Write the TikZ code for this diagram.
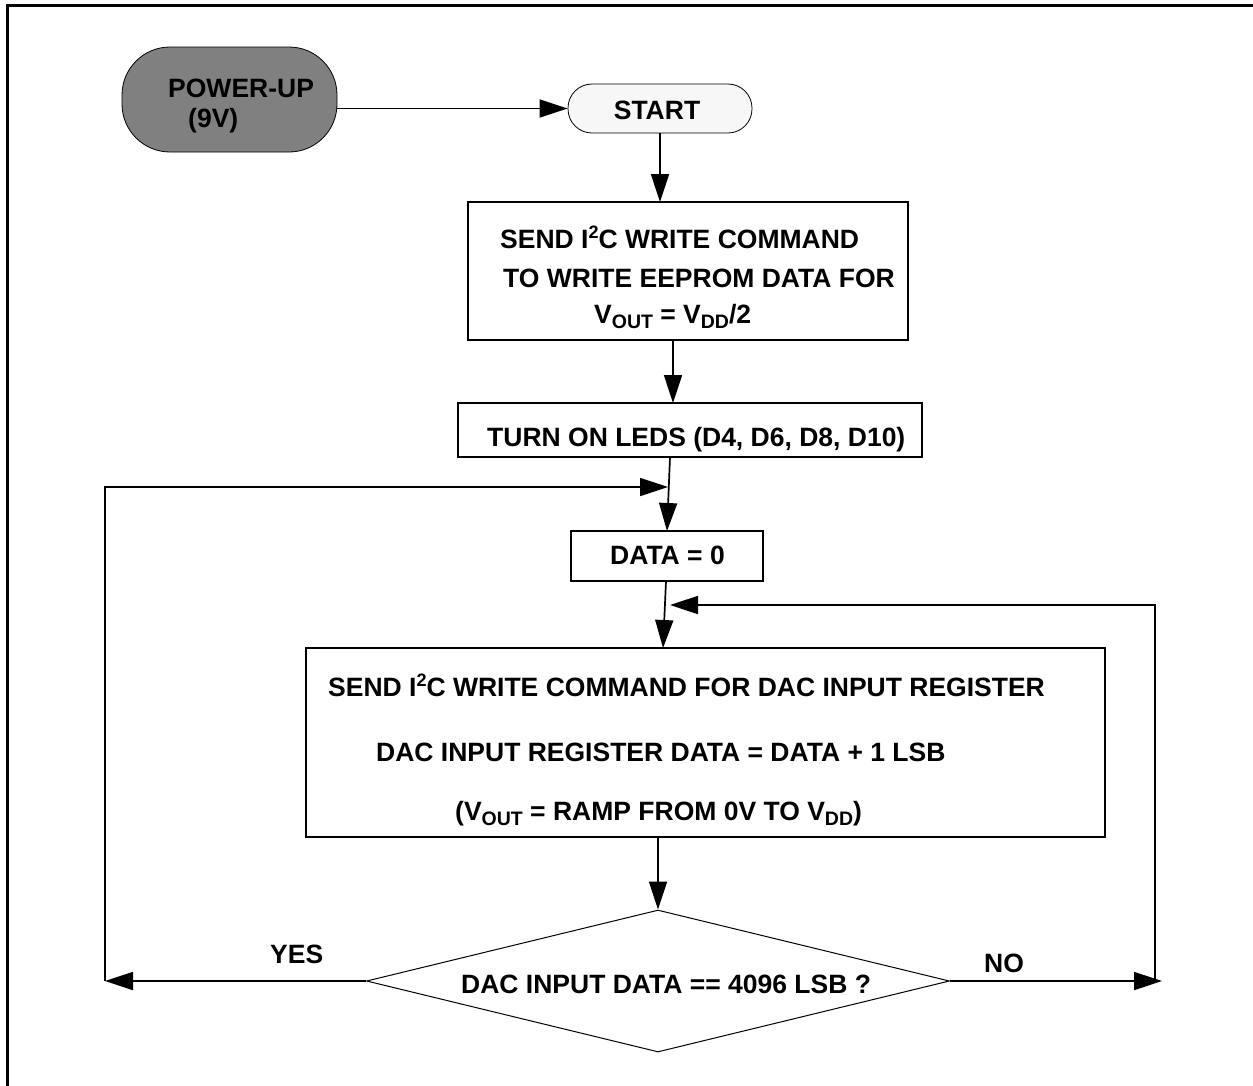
\documentclass[tikz,border=0pt]{standalone}
\usepackage{fontspec}
\setmainfont{Liberation Sans}
\usetikzlibrary{arrows.meta,shapes.geometric}
\newcommand\mysub[1]{\raisebox{-5.5pt}{\fontsize{19.5}{20}\selectfont #1}}
\newcommand\mysup[1]{\raisebox{10pt}{\fontsize{18}{18}\selectfont #1}}
\begin{document}
\begin{tikzpicture}[x=1pt,y=-1pt,
  every node/.style={font=\fontsize{26.5}{31}\selectfont\bfseries, inner sep=0pt},
  box/.style={draw, line width=1.8pt},
  txt/.style={anchor=base west},
  arr/.style={-{Triangle[length=28pt,width=18pt]}, line width=1.7pt}]
\useasboundingbox (0,0) rectangle (1253,1085);
% frame
\draw[line width=3pt] (7.5,1100) -- (7.5,5.5) -- (1270,5.5);
% power-up
\node[draw, line width=0.8pt, fill=black!50, rounded corners=48pt, minimum width=215pt, minimum height=105pt] (pwr) at (229.5,99.5) {};
\node[txt] (pwrt1) at (168,97) {POWER-UP};
\node[txt] (pwrt2) at (188,127) {(9V)};
% start
\node[draw, line width=0.8pt, fill=black!3, rounded corners=24pt, minimum width=184pt, minimum height=49pt] (start) at (660,108.5) {};
\node (startt) at (657,110) {START};
% box1
\node[box, minimum width=440pt, minimum height=138pt] (b1) at (688,271) {};
\node[txt] (b1t1) at (500,248) {SEND I\mysup{2}C WRITE COMMAND};
\node[txt] (b1t2) at (503,287) {TO WRITE EEPROM DATA FOR};
\node[txt] (b1t3) at (594,323) {V\mysub{OUT} = V\mysub{DD}/2};
% box2
\node[box, minimum width=464pt, minimum height=54pt] (b2) at (690,430) {};
\node[txt] (b2t) at (487,446) {TURN ON LEDS (D4, D6, D8, D10)};
% data
\node[box, minimum width=192pt, minimum height=50pt] (data) at (667,556) {};
\node[txt] (datat) at (610,564) {DATA = 0};
% big box
\node[box, minimum width=799pt, minimum height=189pt] (big) at (705.5,742.5) {};
\node[txt] (bigt1) at (328,696) {SEND I\mysup{2}C WRITE COMMAND FOR DAC INPUT REGISTER};
\node[txt] (bigt2) at (376,761) {DAC INPUT REGISTER DATA = DATA + 1 LSB};
\node[txt] (bigt3) at (455,820) {(V\mysub{OUT} = RAMP FROM 0V TO V\mysub{DD})};
% decision
\node[draw, line width=1pt, diamond, minimum width=583pt, minimum height=142pt] (dia) at (658,981) {};
\node[txt] (diat) at (461,993) {DAC INPUT DATA == 4096 LSB ?};
\node[txt] (yes) at (270,963) {YES};
\node[txt] (no) at (984,972) {NO};
% coordinates
\coordinate (yc) at (105,981);
\coordinate (j1) at (668,487);
\coordinate (nc) at (1162,981);
\coordinate (nv) at (1155,981);
\coordinate (j2) at (670,605);
% connectors
\draw[arr] (start.west -| pwr.east) -- (start.west);
\draw[arr] (660,133) -- (660,202);
\draw[arr] (673,340) -- (673,403);
\draw[arr] (670,457) -- (667,531);
\draw[arr] (666,581) -- (663,648);
\draw[arr] (658,837) -- (dia.north);
\draw[arr] (dia.west) -- (yc);
\draw[arr] (yc) |- (j1);
\draw[arr] (dia.east) -- (nc);
\draw[arr] (nv) |- (j2);
\end{tikzpicture}
\end{document}
